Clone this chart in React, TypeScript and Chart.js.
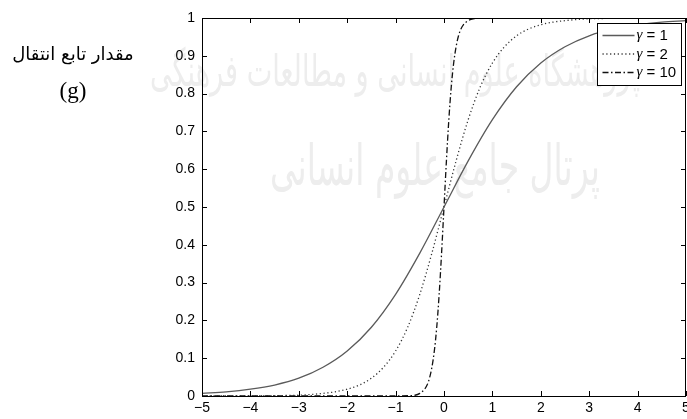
import React, { useEffect, useRef } from "react";
import { Chart, registerables } from "chart.js";

Chart.register(...registerables);

// ---- data ----
const xTicks = [-5, -4, -3, -2, -1, 0, 1, 2, 3, 4, 5];
const yTicks = [0, 0.1, 0.2, 0.3, 0.4, 0.5, 0.6, 0.7, 0.8, 0.9, 1];
const yTickLabels = ["0", "0.1", "0.2", "0.3", "0.4", "0.5", "0.6", "0.7", "0.8", "0.9", "1"];
const seriesNames = ["1", "2", "10"];
const yAxisTitle = "مقدار تابع انتقال";
const yAxisSymbol = "(g)";
const watermarkLines = ["پژوهشگاه علوم انسانی و مطالعات فرهنگی", "پرتال جامع علوم انسانی"];

const x1 = [-5, -4.5, -4, -3.5, -3, -2.5, -2, -1.5, -1, -0.5, 0, 0.5, 1, 1.5, 2, 2.5, 3, 3.5, 4, 4.5, 5];
const y1 = [0.007, 0.011, 0.018, 0.029, 0.047, 0.076, 0.119, 0.182, 0.269, 0.378, 0.5, 0.622, 0.731, 0.818, 0.881, 0.924, 0.953, 0.971, 0.982, 0.989, 0.993];

const x2 = [-5, -4.5, -4, -3.5, -3, -2.75, -2.5, -2.25, -2, -1.75, -1.5, -1.25, -1, -0.75, -0.5, -0.25, 0, 0.25, 0.5, 0.75, 1, 1.25, 1.5, 1.75, 2, 2.25, 2.5, 2.75, 3, 3.5, 4, 4.5, 5];
const y2 = [0, 0, 0, 0.001, 0.002, 0.004, 0.007, 0.011, 0.018, 0.029, 0.047, 0.076, 0.119, 0.182, 0.269, 0.378, 0.5, 0.622, 0.731, 0.818, 0.881, 0.924, 0.953, 0.971, 0.982, 0.989, 0.993, 0.996, 0.998, 0.999, 1, 1, 1];

const x10 = [-5, -2, -1, -0.7, -0.6, -0.5, -0.4, -0.35, -0.3, -0.25, -0.2, -0.15, -0.1, -0.05, 0, 0.05, 0.1, 0.15, 0.2, 0.25, 0.3, 0.35, 0.4, 0.5, 0.6, 0.7, 1, 2, 5];
const y10 = [0, 0, 0, 0.001, 0.002, 0.007, 0.018, 0.029, 0.047, 0.076, 0.119, 0.182, 0.269, 0.378, 0.5, 0.622, 0.731, 0.818, 0.881, 0.924, 0.953, 0.971, 0.982, 0.993, 0.998, 0.999, 1, 1, 1];

const pts = (xs: number[], ys: number[]) => xs.map((x, i) => ({ x, y: ys[i] }));

const lineStyles = [
  { color: "#5a5a5a", dash: [] as number[], width: 1.3 },
  { color: "#333333", dash: [1.2, 2.6], width: 1.3 },
  { color: "#111111", dash: [6, 2.5, 1.5, 2.5], width: 1.3 },
];

const fmt = (v: number) => String(v).replace("-", "\u2212");

const watermarkPlugin = {
  id: "watermark",
  beforeDraw(chart: any) {
    const { ctx } = chart;
    const specs = [
      { text: watermarkLines[0], cx: 395, base: 86, size: 44, w: 490 },
      { text: watermarkLines[1], cx: 435, base: 185, size: 56, w: 330 },
    ];
    ctx.save();
    ctx.fillStyle = "#ededed";
    ctx.textBaseline = "alphabetic";
    ctx.textAlign = "center";
    ctx.direction = "rtl";
    specs.forEach((s) => {
      ctx.font = `${s.size}px 'DejaVu Sans'`;
      const m = ctx.measureText(s.text).width || 1;
      ctx.save();
      ctx.translate(s.cx, s.base);
      ctx.scale(s.w / m, 1);
      ctx.fillText(s.text, 0, 0);
      ctx.restore();
    });
    ctx.restore();
  },
};

const boxPlugin = {
  id: "matlabBox",
  afterDraw(chart: any) {
    const { ctx, chartArea: a, scales } = chart;
    const xs = scales.x;
    const ys = scales.y;
    ctx.save();
    ctx.strokeStyle = "#000";
    ctx.lineWidth = 1;
    ctx.beginPath();
    const tl = 5;
    xTicks.forEach((v) => {
      const px = Math.round(xs.getPixelForValue(v)) + 0.5;
      ctx.moveTo(px, a.bottom);
      ctx.lineTo(px, a.bottom - tl);
      ctx.moveTo(px, a.top);
      ctx.lineTo(px, a.top + tl);
    });
    yTicks.forEach((v) => {
      const py = Math.round(ys.getPixelForValue(v)) + 0.5;
      ctx.moveTo(a.left, py);
      ctx.lineTo(a.left + tl, py);
      ctx.moveTo(a.right, py);
      ctx.lineTo(a.right - tl, py);
    });
    ctx.stroke();
    ctx.strokeRect(Math.round(a.left) + 0.5, Math.round(a.top) + 0.5, Math.round(a.right - a.left) - 1, Math.round(a.bottom - a.top));

    // legend
    const bw = 84;
    const bh = 62;
    const bx = Math.round(a.right - 5 - bw) + 0.5;
    const by = Math.round(a.top + 5) + 0.5;
    ctx.fillStyle = "#fff";
    ctx.fillRect(bx, by, bw, bh);
    ctx.strokeStyle = "#000";
    ctx.lineWidth = 1;
    ctx.strokeRect(bx, by, bw, bh);
    seriesNames.forEach((name, i) => {
      const st = lineStyles[i];
      const ry = by + 12 + i * 18.5;
      ctx.beginPath();
      ctx.strokeStyle = st.color;
      ctx.lineWidth = st.width;
      ctx.setLineDash(st.dash);
      ctx.moveTo(bx + 5, ry);
      ctx.lineTo(bx + 37, ry);
      ctx.stroke();
      ctx.setLineDash([]);
      ctx.fillStyle = "#000";
      ctx.textBaseline = "middle";
      ctx.textAlign = "left";
      ctx.font = "italic 15px 'Liberation Serif'";
      ctx.fillText("\u03b3", bx + 39, ry);
      const gw = ctx.measureText("\u03b3").width;
      ctx.font = "15px 'Liberation Sans'";
      ctx.fillText(" = " + name, bx + 39 + gw, ry + 0.5);
    });
    ctx.restore();
  },
};

export default function App() {
  const ref = useRef<HTMLCanvasElement | null>(null);
  useEffect(() => {
    document.body.style.margin = "0";
    const canvas = ref.current;
    if (!canvas) return;
    const series = [pts(x1, y1), pts(x2, y2), pts(x10, y10)];
    const chart = new Chart(canvas, {
      type: "line",
      data: {
        datasets: series.map((d, i) => ({
          label: "\u03b3 = " + seriesNames[i],
          data: d,
          borderColor: lineStyles[i].color,
          borderWidth: lineStyles[i].width,
          borderDash: lineStyles[i].dash,
          pointRadius: 0,
          fill: false,
          cubicInterpolationMode: "monotone" as const,
        })),
      },
      options: {
        animation: false,
        responsive: true,
        maintainAspectRatio: false,
        layout: { padding: { top: 18, right: 1, left: 0, bottom: 0 } },
        plugins: { legend: { display: false }, tooltip: { enabled: false } },
        scales: {
          x: {
            type: "linear",
            min: -5,
            max: 5,
            afterBuildTicks: (s: any) => {
              s.ticks = xTicks.map((v) => ({ value: v }));
            },
            afterFit: (s: any) => {
              s.height = 23;
              s.paddingRight = 0;
              s.paddingLeft = 0;
            },
            ticks: {
              callback: (v: any) => fmt(Number(v)),
              color: "#000",
              font: { family: "'Liberation Sans', Arial, sans-serif", size: 14 },
              padding: 4,
              maxRotation: 0,
              autoSkip: false,
            },
            grid: { display: false, drawTicks: false },
            border: { display: false },
          },
          y: {
            type: "linear",
            min: 0,
            max: 1,
            afterBuildTicks: (s: any) => {
              s.ticks = yTicks.map((v) => ({ value: v }));
            },
            afterFit: (s: any) => {
              s.width = 202;
              s.paddingTop = 0;
              s.paddingBottom = 0;
            },
            ticks: {
              callback: (_v: any, idx: number) => yTickLabels[idx],
              color: "#000",
              font: { family: "'Liberation Sans', Arial, sans-serif", size: 14 },
              padding: 7,
              autoSkip: false,
            },
            grid: { display: false, drawTicks: false },
            border: { display: false },
          },
        },
      },
      plugins: [watermarkPlugin, boxPlugin],
    });
    return () => chart.destroy();
  }, []);

  return (
    <div style={{ position: "absolute", left: 0, top: 0, width: 687, height: 419, background: "#fff", overflow: "hidden" }}>
      <canvas ref={ref} style={{ position: "absolute", left: 0, top: 0, width: 687, height: 419 }} />
      <div
        style={{
          position: "absolute",
          left: 0,
          top: 42,
          width: 146,
          textAlign: "center",
          direction: "rtl",
          fontFamily: "'DejaVu Sans', sans-serif",
          fontSize: 18,
          color: "#000",
          lineHeight: "24px",
        }}
      >
        {yAxisTitle}
      </div>
      <div
        style={{
          position: "absolute",
          left: 0,
          top: 76,
          width: 146,
          textAlign: "center",
          fontFamily: "'Liberation Serif', serif",
          fontSize: 23,
          color: "#000",
          lineHeight: "30px",
        }}
      >
        {yAxisSymbol}
      </div>
    </div>
  );
}
